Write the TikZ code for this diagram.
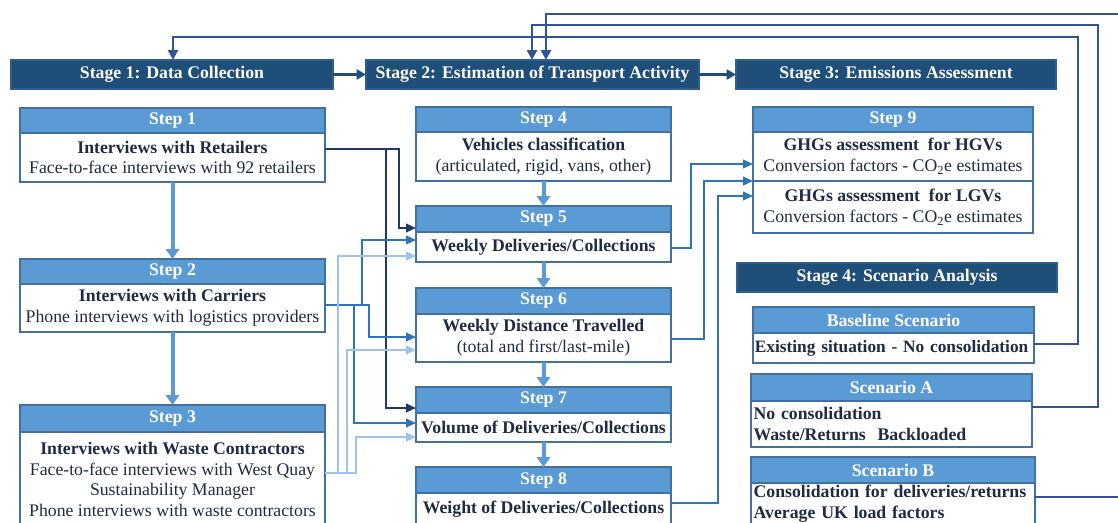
\documentclass[tikz,border=0pt]{standalone}
\usepackage{fontspec}
\setmainfont{Liberation Serif}
\usetikzlibrary{arrows.meta}
\definecolor{navy}{HTML}{1F4E79}
\definecolor{navyb}{HTML}{2F5F8F}
\definecolor{hdr}{HTML}{5B9BD5}
\definecolor{bord}{HTML}{41719C}
\definecolor{txt}{HTML}{1F2B45}
\definecolor{cdark}{HTML}{1F3864}
\definecolor{cmed}{HTML}{2E75B6}
\definecolor{clight}{HTML}{9DC3E6}
\definecolor{cfb}{HTML}{2F5597}
\begin{document}
\begin{tikzpicture}[x=0.75pt,y=-0.75pt,
  spanbox/.style n args={4}{at={(#1,#2)}, anchor=north west, outer sep=0pt,
    minimum width={(#3-#1)*0.75pt}, minimum height={(#4-#2)*0.75pt}},
  box/.style={inner sep=0pt, align=center, line width=1.1pt, draw=bord,
    font=\fontsize{13.3}{15.5}\selectfont},
  stagebox/.style={box, fill=navy, draw=navyb, text=white,
    font=\fontsize{13.3}{15.5}\selectfont\bfseries},
  hdrbox/.style={box, fill=hdr, text=white,
    font=\fontsize{13.3}{15.5}\selectfont\bfseries},
  bodybox/.style={box, fill=white, text=txt},
  bodyleft/.style={bodybox, align=left, text width=#1,
    font=\fontsize{13.3}{15.5}\selectfont\bfseries},
  bigarrow/.style={draw=hdr, line width=3pt, -{Triangle[length=7.5pt,width=10pt]}},
  stagearrow/.style={draw=navy, line width=1.8pt, -{Triangle[length=7pt,width=7.5pt]}},
  link/.style={line width=1.4pt, -{Triangle[length=7.5pt,width=6.5pt]}},
  feedback/.style={draw=cfb, line width=1.9pt, -{Triangle[length=7.5pt,width=7.5pt]}},
]
\useasboundingbox (0,0) rectangle (1118,522);
\fill[white] (0,0) rectangle (1118,522);

% Stage bars
\node[stagebox, spanbox={11}{60}{333}{89}] (st1) {Stage 1: Data Collection};
\node[stagebox, spanbox={366}{60}{699}{89}] (st2) {Stage 2: Estimation of Transport Activity};
\node[stagebox, spanbox={736}{60}{1056}{89}] (st3) {Stage 3: Emissions Assessment};
\node[stagebox, spanbox={737}{263}{1057}{292}] (st4) {Stage 4: Scenario Analysis};

% Column 1
\node[hdrbox, spanbox={20}{108}{325}{133}] (h1) {Step 1};
\node[bodybox, spanbox={20}{133}{325}{182}] (b1) {\textbf{Interviews\ with\ Retailers}\\Face-to-face interviews with 92 retailers};
\node[hdrbox, spanbox={20}{259}{325}{284}] (h2) {Step 2};
\node[bodybox, spanbox={20}{284}{325}{332}] (b2) {\textbf{Interviews\ with\ Carriers}\\Phone interviews with logistics providers};
\node[hdrbox, spanbox={20}{405}{325}{432}] (h3) {Step 3};
\node[bodybox, spanbox={20}{432}{325}{527}] (b3) {\textbf{Interviews\ with\ Waste\ Contractors}\\Face-to-face interviews with West Quay\\Sustainability Manager\\Phone interviews with waste contractors};

% Column 2
\node[hdrbox, spanbox={416}{107}{671}{132}] (h4) {Step 4};
\node[bodybox, spanbox={416}{132}{671}{181}] (b4) {\textbf{Vehicles\ classification}\\(articulated, rigid, vans, other)};
\node[hdrbox, spanbox={416}{206}{671}{232}] (h5) {Step 5};
\node[bodybox, spanbox={416}{232}{671}{262}] (b5) {\textbf{Weekly\ Deliveries/Collections}};
\node[hdrbox, spanbox={416}{288}{671}{314}] (h6) {Step 6};
\node[bodybox, spanbox={416}{314}{671}{362}] (b6) {\textbf{Weekly\ Distance\ Travelled}\\(total and first/last-mile)};
\node[hdrbox, spanbox={416}{387}{671}{413}] (h7) {Step 7};
\node[bodybox, spanbox={416}{413}{671}{442}] (b7) {\textbf{Volume of Deliveries/Collections}};
\node[hdrbox, spanbox={416}{467}{671}{493}] (h8) {Step 8};
\node[bodybox, spanbox={416}{493}{671}{525}] (b8) {\textbf{Weight of Deliveries/Collections}};

% Column 3
\node[hdrbox, spanbox={753}{107}{1033}{132}] (h9) {Step 9};
\node[bodybox, spanbox={753}{132}{1033}{181}] (b9a) {\textbf{GHGs assessment\ \ for HGVs}\\Conversion factors - CO\textsubscript{2}e estimates};
\node[bodybox, spanbox={753}{181}{1033}{233}] (b9b) {\textbf{GHGs assessment\ \ for LGVs}\\Conversion factors - CO\textsubscript{2}e estimates};

\node[hdrbox, spanbox={753}{307}{1034}{333}] (hB) {Baseline Scenario};
\node[bodyleft=208pt, spanbox={753}{333}{1034}{363}, font=\fontsize{13}{15.5}\selectfont\bfseries] (bB) {\mbox{Existing situation - No consolidation}};
\node[hdrbox, spanbox={751}{374}{1032}{401}] (hA) {Scenario A};
\node[bodyleft=207pt, spanbox={751}{401}{1032}{447}] (bA) {No consolidation\\Waste/Returns\ \ Backloaded};
\node[hdrbox, spanbox={751}{457}{1035}{483}] (hSB) {Scenario B};
\node[bodyleft=209pt, spanbox={751}{483}{1035}{525}] (bSB) {Consolidation for deliveries/returns\\Average UK load factors};

% Stage arrows
\draw[stagearrow] (st1.east) -- (st2.west);
\draw[stagearrow] (st2.east) -- (st3.west);

% Thick step arrows
\draw[bigarrow] (b1.south) -- (h2.north);
\draw[bigarrow] (b2.south) -- (h3.north);
\draw[bigarrow] (b4.south) -- (h5.north);
\draw[bigarrow] (b5.south) -- (h6.north);
\draw[bigarrow] (b6.south) -- (h7.north);
\draw[bigarrow] (b7.south) -- (h8.north);

% Step 1 links (dark)
\draw[link, draw=cdark] (b1.east |- 0,149) -| (399,228) -- (h5.west |- 0,228);
\draw[link, draw=cdark] (b1.east |- 0,149) -| (386,408) -- (h7.west |- 0,408);
% Step 2 links (medium)
\draw[link, draw=cmed] (b2.east |- 0,305) -| (362,240) -- (b5.west |- 0,240);
\draw[link, draw=cmed] (b2.east |- 0,305) -| (369,337) -- (b6.west |- 0,337);
\draw[link, draw=cmed] (b2.east |- 0,305) -| (354,423) -- (b7.west |- 0,423);
% Step 3 links (light)
\draw[link, draw=clight] (b3.east |- 0,473) -| (338,256) -- (b5.west |- 0,256);
\draw[link, draw=clight] (b3.east |- 0,473) -| (347,350) -- (b6.west |- 0,350);
\draw[link, draw=clight] (b3.east |- 0,473) -| (356,437) -- (b7.west |- 0,437);

% Column 2 to Step 9
\draw[link, draw=cmed] (b5.east |- 0,248) -| (691,164) -- (b9a.west |- 0,164);
\draw[link, draw=cmed] (b6.east |- 0,339) -| (704,181) -- (b9a.south west);
\draw[link, draw=cmed] (b8.east |- 0,503) -| (718,196) -- (b9b.west |- 0,196);

% Feedback loops
\draw[feedback] (bB.east |- 0,344) -- (1078,344) -- (1078,37) -- (173,37) -- (st1.north -| 173,0);
\draw[feedback] (bA.east |- 0,407) -- (1098,407) -- (1098,25) -- (532,25) -- (st2.north -| 532,0);
\draw[feedback] (bSB.east |- 0,497) -- (1130,497) -- (1130,14) -- (546,14) -- (st2.north -| 546,0);
\end{tikzpicture}
\end{document}
